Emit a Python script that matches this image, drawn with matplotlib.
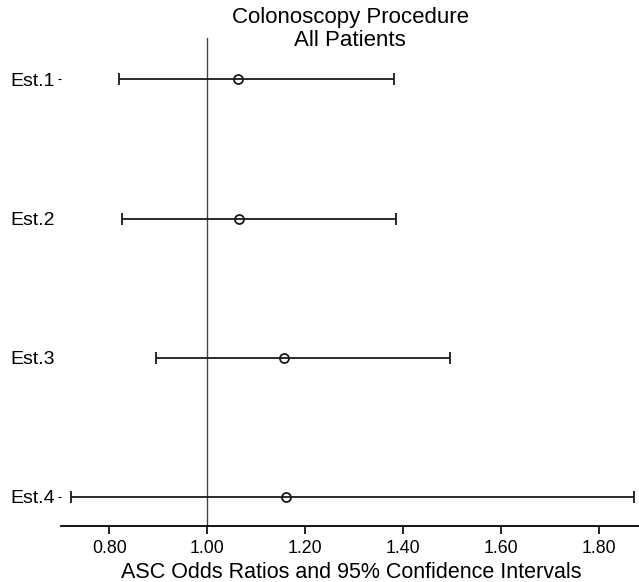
import matplotlib
matplotlib.use('Agg')
import matplotlib.pyplot as plt
import numpy as np

# Odds ratios and 95% CIs
labels = ['Est.1', 'Est.2', 'Est.3', 'Est.4']
odds_ratio = [1.063, 1.066, 1.157, 1.161]
ci_low = [0.821, 0.827, 0.896, 0.722]
ci_high = [1.382, 1.386, 1.496, 1.871]
xticks = [0.80, 1.00, 1.20, 1.40, 1.60, 1.80]

plt.rcParams['font.family'] = ['Liberation Sans', 'DejaVu Sans']

W, H = 639, 582
fig = plt.figure(figsize=(W / 100, H / 100), dpi=100)
ax = fig.add_axes([0.095, 0.0962, 0.905, 0.839])

ypos = np.arange(len(labels), 0, -1)
or_arr = np.array(odds_ratio)
xerr = [or_arr - np.array(ci_low), np.array(ci_high) - or_arr]

ax.errorbar(odds_ratio, ypos, xerr=xerr, fmt='none', ecolor='#1a1a1a',
            elinewidth=1.3, capsize=4.3, capthick=1.3, zorder=2)
ax.plot(odds_ratio, ypos, linestyle='none', marker='o', markersize=6.5,
        markerfacecolor='none', markeredgecolor='#1a1a1a', markeredgewidth=1.3,
        zorder=3)

# Reference line at OR = 1
ax.axvline(1.0, color='#444444', linewidth=1.0, zorder=1)

ax.set_xlim(0.701, 1.882)
ax.set_ylim(0.79, 4.30)
ax.set_xticks(xticks)
ax.set_xticklabels([f'{t:.2f}' for t in xticks], fontsize=12.8)
ax.set_yticks(ypos)
ax.set_yticklabels(labels, fontsize=14)

for side in ['top', 'right', 'left']:
    ax.spines[side].set_visible(False)
ax.spines['bottom'].set_linewidth(1.3)
ax.tick_params(axis='x', length=6, width=1.2, pad=4)
ax.tick_params(axis='y', length=2, width=0.8, pad=2)

# only the outer estimates show a tick mark
yt = ax.yaxis.get_major_ticks()
yt[1].tick1line.set_visible(False)
yt[2].tick1line.set_visible(False)

# title and axis label placed in figure pixels
fig.text(350 / W, 1 - 17 / H, 'Colonoscopy Procedure', fontsize=16,
         ha='center', va='center')
fig.text(350 / W, 1 - 40 / H, 'All Patients', fontsize=16,
         ha='center', va='center')
fig.text(351 / W, 1 - 572 / H, 'ASC Odds Ratios and 95% Confidence Intervals',
         fontsize=15.5, ha='center', va='center')

fig.savefig('out.png', dpi=100)
